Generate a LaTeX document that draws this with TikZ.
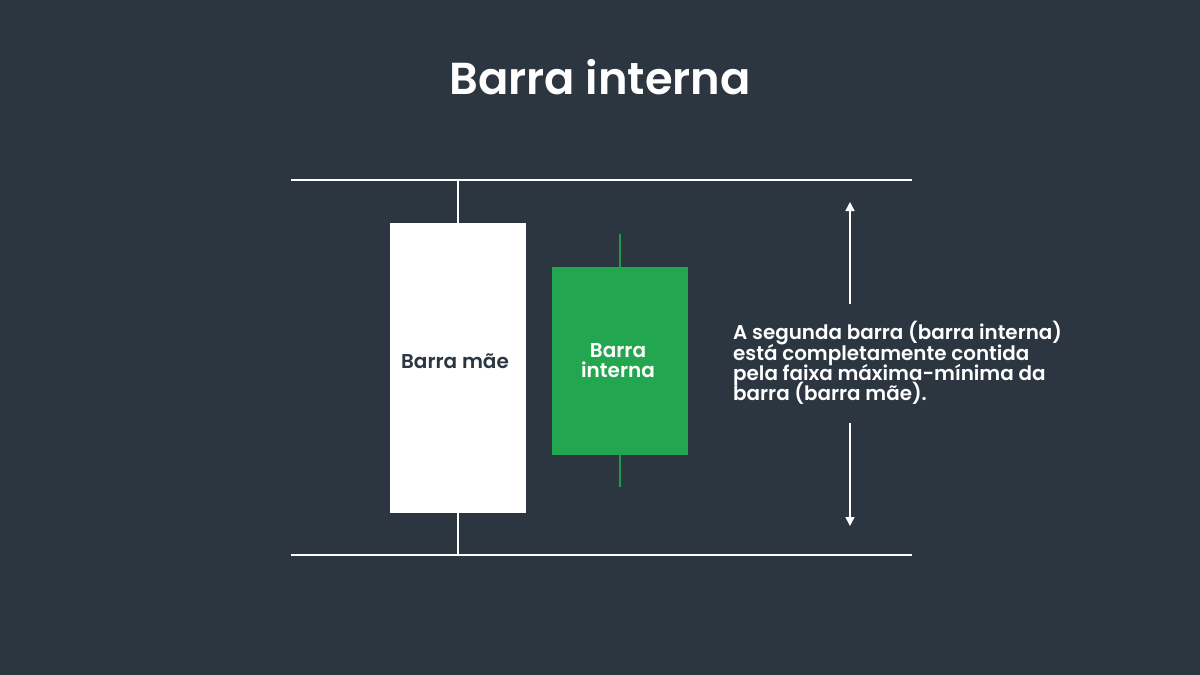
\documentclass[tikz,border=0pt]{standalone}
\usepackage{fontspec}
\setmainfont{Poppins}[BoldFont={* SemiBold}]
\usetikzlibrary{arrows.meta}
\definecolor{bg}{HTML}{2B3640}
\definecolor{bullgreen}{HTML}{22A650}
\definecolor{wickgreen}{HTML}{1F9A4A}
\newcommand\tightlines{\lineskiplimit=-30pt\relax}
\tikzset{
  x=1pt, y=-1pt,
  rangeline/.style={draw=white, line width=1.6pt},
  wick/.style={draw=white, line width=1.8pt},
  gwick/.style={draw=wickgreen, line width=1.8pt},
  candle/.style={inner sep=0pt, outer sep=0pt, draw=none, anchor=north west},
  span/.style={draw=white, line width=1.4pt, -{Triangle[width=9pt,length=9pt]}},
  lbl/.style={font=\bfseries\fontsize{20}{20}\selectfont\tightlines, align=center, inner sep=0pt},
}
\begin{document}
\begin{tikzpicture}
\fill[bg] (0,0) rectangle (1200,675);
\useasboundingbox (0,0) rectangle (1200,675);
\node[font=\bfseries\fontsize{44.8}{50}\selectfont, text=white] (title) at (600,77) {Barra interna};
% range lines
\coordinate (tl) at (291,180); \coordinate (tr) at (912,180);
\coordinate (bl) at (291,555); \coordinate (br) at (912,555);
\draw[rangeline] (tl) -- (tr);
\draw[rangeline] (bl) -- (br);
% mother bar
\coordinate (mtop) at (458,180);
\coordinate (mbot) at (458,555);
\node[candle, fill=white, minimum width=136pt, minimum height=290pt] (mother) at (390,223) {};
\draw[wick] (mtop) -- (mother.north);
\draw[wick] (mother.south) -- (mbot);
\node[lbl, text=bg] (mlbl) at (455,361) {Barra mãe};
% inside bar
\coordinate (itop) at (620,234);
\coordinate (ibot) at (620,487);
\node[candle, fill=bullgreen, minimum width=136pt, minimum height=188pt] (inside) at (552,267) {};
\draw[gwick] (itop) -- (inside.north);
\draw[gwick] (inside.south) -- (ibot);
\node[lbl, text=white] (ilbl) at (618,361) {Barra\\interna};
% description and arrows
\coordinate (aup) at (850,202);
\coordinate (adn) at (850,526);
\node[font=\bfseries\fontsize{19.9}{20.3}\selectfont\tightlines, text=white, align=left, anchor=west, inner sep=0pt] (desc) at (733,363) {A segunda barra (barra interna)\\está completamente contida\\pela faixa máxima-mínima da\\barra (barra mãe).};
\coordinate (s1) at (850,304);
\coordinate (s2) at (850,423);
\draw[span] (s1) -- (aup);
\draw[span] (s2) -- (adn);
\end{tikzpicture}
\end{document}
